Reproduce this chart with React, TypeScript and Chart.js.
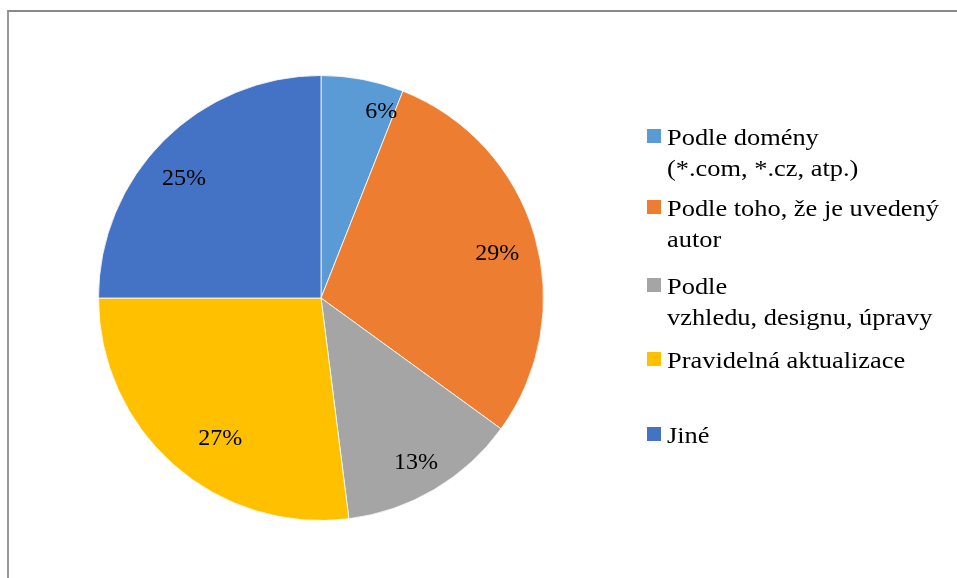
import React, { useEffect, useRef } from "react";
import { Chart, registerables } from "chart.js";

Chart.register(...registerables);

const categories: string[][] = [
  ["Podle domény", "(*.com, *.cz, atp.)"],
  ["Podle toho, že je uvedený", "autor"],
  ["Podle", "vzhledu, designu, úpravy"],
  ["Pravidelná aktualizace"],
  ["Jiné"],
];
const values = [6, 29, 13, 27, 25];
const colors = ["#5B9BD5", "#ED7D31", "#A5A5A5", "#FFC000", "#4472C4"];

const FONT = '"Liberation Serif", "Times New Roman", serif';

// small best-fit style nudges for the percentage labels (offsets, px)
const labelNudge: [number, number][] = [
  [26, -7],
  [1, 7],
  [2, 8],
  [20, 4],
  [-8, 10],
];

const labelPlugin = {
  id: "pctLabels",
  afterDatasetsDraw(chart: any) {
    const ctx = chart.ctx;
    const meta = chart.getDatasetMeta(0);
    const data = chart.data.datasets[0].data as number[];
    const total = data.reduce((a, b) => a + b, 0);
    ctx.save();
    ctx.fillStyle = "#000";
    ctx.font = `24px ${FONT}`;
    ctx.textAlign = "center";
    ctx.textBaseline = "middle";
    meta.data.forEach((arc: any, i: number) => {
      const { x, y, startAngle, endAngle, outerRadius } = arc.getProps(
        ["x", "y", "startAngle", "endAngle", "outerRadius"],
        true
      );
      const mid = (startAngle + endAngle) / 2;
      const r = outerRadius * 0.82;
      const pct = Math.round((data[i] / total) * 100);
      const [nx, ny] = labelNudge[i] || [0, 0];
      ctx.fillText(`${pct}%`, x + Math.cos(mid) * r + nx, y + Math.sin(mid) * r + ny);
    });
    ctx.restore();
  },
};

const legendPlugin = {
  id: "sideLegend",
  afterDraw(chart: any) {
    const ctx = chart.ctx;
    const labels = chart.data.labels as string[][];
    const bg = chart.data.datasets[0].backgroundColor as string[];
    const baselines = [145, 216, 294, 368, 443];
    const lineH = 30.7;
    const textX = 667;
    ctx.save();
    labels.forEach((lines, i) => {
      const b = baselines[i];
      ctx.fillStyle = bg[i];
      ctx.fillRect(647, b - 16, 14, 14);
    });
    ctx.font = `24px ${FONT}`;
    ctx.textAlign = "left";
    ctx.textBaseline = "alphabetic";
    ctx.fillStyle = "#000";
    ctx.translate(textX, 0);
    ctx.scale(1.1, 1);
    labels.forEach((lines, i) => {
      const b = baselines[i];
      lines.forEach((ln, j) => {
        ctx.fillText(ln, 0, b + j * lineH);
      });
    });
    ctx.restore();
  },
};

export default function App() {
  const ref = useRef<HTMLCanvasElement | null>(null);
  useEffect(() => {
    document.body.style.margin = "0";
    const chart = new Chart(ref.current as HTMLCanvasElement, {
      type: "pie",
      data: {
        labels: categories as any,
        datasets: [
          {
            data: values,
            backgroundColor: colors,
            borderColor: "rgba(255,255,255,0.8)",
            borderWidth: 1,
          },
        ],
      },
      options: {
        animation: false,
        responsive: false,
        layout: { padding: { left: 98, top: 75, right: 957 - 544, bottom: 578 - 521 } },
        plugins: {
          legend: { display: false },
          tooltip: { enabled: false },
        },
      },
      plugins: [labelPlugin, legendPlugin],
    });
    return () => chart.destroy();
  }, []);
  return (
    <div style={{ position: "relative", width: 957, height: 578, overflow: "hidden", background: "#fff" }}>
      <div
        style={{
          position: "absolute",
          left: 7,
          top: 10,
          width: 2000,
          height: 2000,
          borderTop: "2px solid #898989",
          borderLeft: "2px solid #989898",
          boxSizing: "border-box",
        }}
      />
      <canvas ref={ref} width={957} height={578} style={{ position: "absolute", left: 0, top: 0 }} />
    </div>
  );
}
